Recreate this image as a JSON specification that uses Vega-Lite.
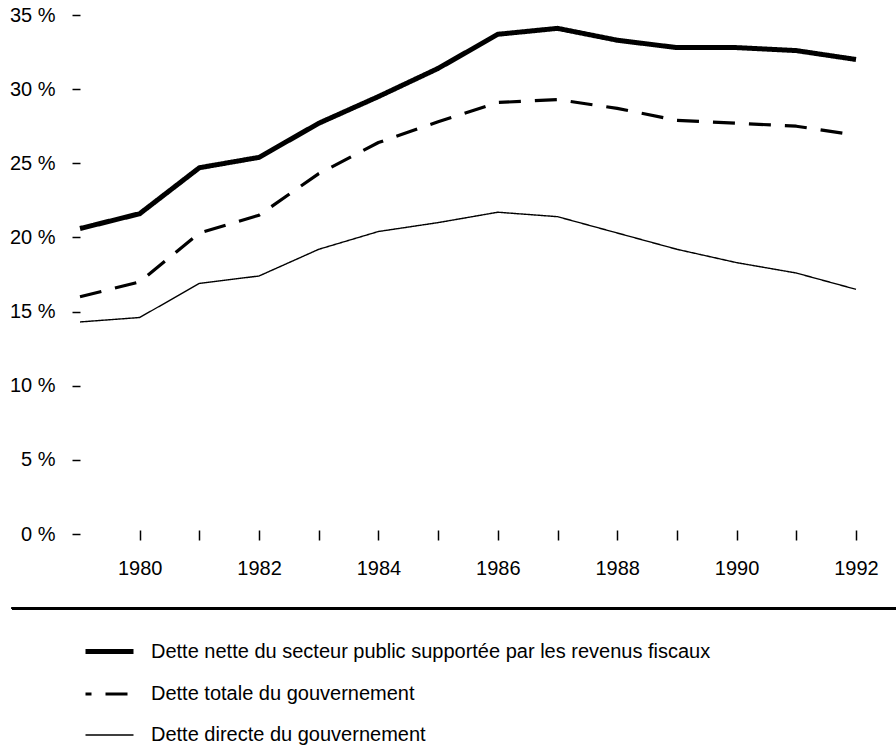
{
  "$schema": "https://vega.github.io/schema/vega-lite/v6.json",
  "width": 776,
  "height": 519,
  "autosize": {"type": "none"},
  "padding": {"left": 80, "top": 15, "right": 40, "bottom": 215},
  "background": "white",
  "config": {
    "view": {"stroke": null},
    "font": "Liberation Sans, Arial, sans-serif"
  },
  "data": {
    "values": [
      {"year": 1979, "series": "Dette nette du secteur public supportée par les revenus fiscaux", "value": 20.6},
      {"year": 1980, "series": "Dette nette du secteur public supportée par les revenus fiscaux", "value": 21.6},
      {"year": 1981, "series": "Dette nette du secteur public supportée par les revenus fiscaux", "value": 24.7},
      {"year": 1982, "series": "Dette nette du secteur public supportée par les revenus fiscaux", "value": 25.4},
      {"year": 1983, "series": "Dette nette du secteur public supportée par les revenus fiscaux", "value": 27.7},
      {"year": 1984, "series": "Dette nette du secteur public supportée par les revenus fiscaux", "value": 29.5},
      {"year": 1985, "series": "Dette nette du secteur public supportée par les revenus fiscaux", "value": 31.4},
      {"year": 1986, "series": "Dette nette du secteur public supportée par les revenus fiscaux", "value": 33.7},
      {"year": 1987, "series": "Dette nette du secteur public supportée par les revenus fiscaux", "value": 34.1},
      {"year": 1988, "series": "Dette nette du secteur public supportée par les revenus fiscaux", "value": 33.3},
      {"year": 1989, "series": "Dette nette du secteur public supportée par les revenus fiscaux", "value": 32.8},
      {"year": 1990, "series": "Dette nette du secteur public supportée par les revenus fiscaux", "value": 32.8},
      {"year": 1991, "series": "Dette nette du secteur public supportée par les revenus fiscaux", "value": 32.6},
      {"year": 1992, "series": "Dette nette du secteur public supportée par les revenus fiscaux", "value": 32.0},
      {"year": 1979, "series": "Dette totale du gouvernement", "value": 16.0},
      {"year": 1980, "series": "Dette totale du gouvernement", "value": 17.0},
      {"year": 1981, "series": "Dette totale du gouvernement", "value": 20.3},
      {"year": 1982, "series": "Dette totale du gouvernement", "value": 21.5},
      {"year": 1983, "series": "Dette totale du gouvernement", "value": 24.3},
      {"year": 1984, "series": "Dette totale du gouvernement", "value": 26.4},
      {"year": 1985, "series": "Dette totale du gouvernement", "value": 27.8},
      {"year": 1986, "series": "Dette totale du gouvernement", "value": 29.1},
      {"year": 1987, "series": "Dette totale du gouvernement", "value": 29.3},
      {"year": 1988, "series": "Dette totale du gouvernement", "value": 28.7},
      {"year": 1989, "series": "Dette totale du gouvernement", "value": 27.9},
      {"year": 1990, "series": "Dette totale du gouvernement", "value": 27.7},
      {"year": 1991, "series": "Dette totale du gouvernement", "value": 27.5},
      {"year": 1992, "series": "Dette totale du gouvernement", "value": 26.9},
      {"year": 1979, "series": "Dette directe du gouvernement", "value": 14.3},
      {"year": 1980, "series": "Dette directe du gouvernement", "value": 14.6},
      {"year": 1981, "series": "Dette directe du gouvernement", "value": 16.9},
      {"year": 1982, "series": "Dette directe du gouvernement", "value": 17.4},
      {"year": 1983, "series": "Dette directe du gouvernement", "value": 19.2},
      {"year": 1984, "series": "Dette directe du gouvernement", "value": 20.4},
      {"year": 1985, "series": "Dette directe du gouvernement", "value": 21.0},
      {"year": 1986, "series": "Dette directe du gouvernement", "value": 21.7},
      {"year": 1987, "series": "Dette directe du gouvernement", "value": 21.4},
      {"year": 1988, "series": "Dette directe du gouvernement", "value": 20.3},
      {"year": 1989, "series": "Dette directe du gouvernement", "value": 19.2},
      {"year": 1990, "series": "Dette directe du gouvernement", "value": 18.3},
      {"year": 1991, "series": "Dette directe du gouvernement", "value": 17.6},
      {"year": 1992, "series": "Dette directe du gouvernement", "value": 16.5}
    ]
  },
  "layer": [
    {
      "mark": {"type": "line", "color": "black", "strokeJoin": "round"},
      "encoding": {
        "x": {
          "field": "year",
          "type": "quantitative",
          "scale": {"domain": [1979, 1992], "nice": false, "zero": false},
          "axis": {
            "title": null,
            "grid": false,
            "domain": false,
            "values": [1980, 1981, 1982, 1983, 1984, 1985, 1986, 1987, 1988, 1989, 1990, 1991, 1992],
            "labelExpr": "datum.value % 2 == 0 ? '' + datum.value : ''",
            "offset": -4,
            "tickSize": 10,
            "tickWidth": 1.5,
            "tickColor": "black",
            "labelPadding": 18,
            "labelFontSize": 20,
            "labelColor": "black",
            "labelFlush": false,
            "labelOverlap": false
          }
        },
        "y": {
          "field": "value",
          "type": "quantitative",
          "scale": {"domain": [0, 35], "nice": false},
          "axis": {
            "title": null,
            "grid": false,
            "domain": false,
            "values": [0, 5, 10, 15, 20, 25, 30, 35],
            "labelExpr": "datum.value + ' %'",
            "tickSize": 8,
            "tickWidth": 1.5,
            "tickColor": "black",
            "labelPadding": 17,
            "labelFontSize": 20,
            "labelColor": "black",
            "labelFlush": false,
            "labelOverlap": false
          }
        },
        "strokeDash": {
          "field": "series",
          "type": "nominal",
          "scale": {
            "domain": ["Dette nette du secteur public supportée par les revenus fiscaux", "Dette totale du gouvernement", "Dette directe du gouvernement"],
            "range": [[1, 0], [22, 14], [1, 0]]
          },
          "legend": {
            "title": null,
            "orient": "none",
            "legendX": 3,
            "legendY": 610,
            "direction": "vertical",
            "symbolType": "stroke",
            "symbolSize": 2304,
            "symbolDashOffset": 16,
            "symbolStrokeColor": "black",
            "labelFontSize": 20,
            "labelColor": "black",
            "labelOffset": 15,
            "rowPadding": 6,
            "labelLimit": 800
          }
        },
        "strokeWidth": {
          "field": "series",
          "type": "nominal",
          "scale": {
            "domain": ["Dette nette du secteur public supportée par les revenus fiscaux", "Dette totale du gouvernement", "Dette directe du gouvernement"],
            "range": [5, 1.4, 1.3]
          },
          "legend": {
            "title": null,
            "orient": "none",
            "legendX": 3,
            "legendY": 610,
            "direction": "vertical",
            "symbolType": "stroke",
            "symbolSize": 2304,
            "symbolDashOffset": 16,
            "symbolStrokeColor": "black",
            "labelFontSize": 20,
            "labelColor": "black",
            "labelOffset": 15,
            "rowPadding": 6,
            "labelLimit": 800
          }
        }
      }
    },
    {
      "mark": {"type": "rule", "color": "black", "strokeWidth": 2, "clip": false},
      "encoding": {
        "x": {"datum": 1977.86, "type": "quantitative"},
        "x2": {"datum": 1992.67},
        "y": {"datum": -5.0, "type": "quantitative"}
      }
    }
  ]
}
